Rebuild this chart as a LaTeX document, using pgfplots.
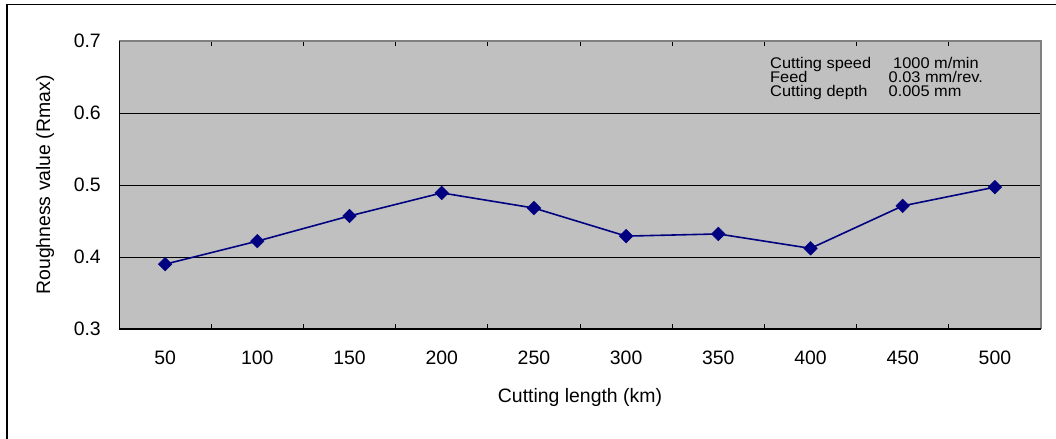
\documentclass[border=0pt]{standalone}
\usepackage{pgfplots}
\pgfplotsset{compat=1.18}
\usepackage{fontspec}
\setmainfont{Liberation Sans}
\definecolor{plotgray}{HTML}{C0C0C0}
\definecolor{bordergray}{HTML}{808080}
\definecolor{navyline}{HTML}{000080}
\newcommand{\annot}[1]{\scalebox{1.06}[1]{#1}}
\begin{document}
\begin{tikzpicture}[x=1bp,y=1bp]
\useasboundingbox (0,0) rectangle (1056,439);
\begin{axis}[
  at={(119bp,110bp)}, anchor=south west,
  scale only axis, width=922bp, height=288bp,
  xmin=-0.5, xmax=9.5, ymin=0.3, ymax=0.7,
  axis background/.style={fill=plotgray},
  axis line style={draw=none},
  xtick={0,...,9},
  xticklabels={50,100,150,200,250,300,350,400,450,500},
  minor xtick={0.5,1.5,...,8.5},
  major x tick style={draw=none},
  minor x tick style={black, line width=0.8pt},
  minor tick length=5bp,
  ytick={0.3,0.4,0.5,0.6,0.7},
  ymajorgrids, grid style={black, line width=0.7pt},
  major y tick style={black, line width=0.8pt},
  major tick length=6bp,
  tick align=inside,
  /pgf/number format/assume math mode=true,
  yticklabel style={/pgf/number format/fixed, /pgf/number format/fixed zerofill, /pgf/number format/precision=1},
  ticklabel style={font=\fontsize{19.5}{19.5}\selectfont},
  xticklabel style={anchor=base, yshift=-36bp, inner sep=0pt},
  yticklabel style={anchor=east, xshift=-18bp, inner sep=0pt},
  clip=false,
]
\addplot[navyline, line width=1.6pt, mark=square*, mark size=4.8bp, mark options={fill=navyline, draw=navyline, rotate=45, line width=0.5pt}]
  coordinates {(0,0.390) (1,0.422) (2,0.457) (3,0.489) (4,0.468) (5,0.429) (6,0.432) (7,0.412) (8,0.471) (9,0.497)};
\end{axis}
% plot area border
\draw[bordergray, line width=1.2pt] (119,398) -- (1041,398) -- (1041,110);
\draw[black, line width=1pt] (119,398) -- (119,110) -- (1041,110);
% outer frame (cropped)
\draw[black, line width=1.3pt] (7,-2) -- (7,434.5) -- (1060,434.5);
% axis labels
\node[font=\fontsize{19.5}{19.5}\selectfont, rotate=90] at (45,254) {Roughness value (Rmax)};
\node[font=\fontsize{19.5}{19.5}\selectfont] at (580,42) {Cutting length (km)};
% annotation
\begin{scope}[every node/.style={font=\fontsize{15.5}{15.5}\selectfont, anchor=base west, inner sep=0pt}]
\node at (770,370.7) {\annot{Cutting speed}};
\node at (893,370.7) {\annot{1000 m/min}};
\node at (770,356.7) {\annot{Feed}};
\node at (888.5,356.7) {\annot{0.03 mm/rev.}};
\node at (770,342.3) {\annot{Cutting depth}};
\node at (888.5,342.3) {\annot{0.005 mm}};
\end{scope}
\end{tikzpicture}
\end{document}
